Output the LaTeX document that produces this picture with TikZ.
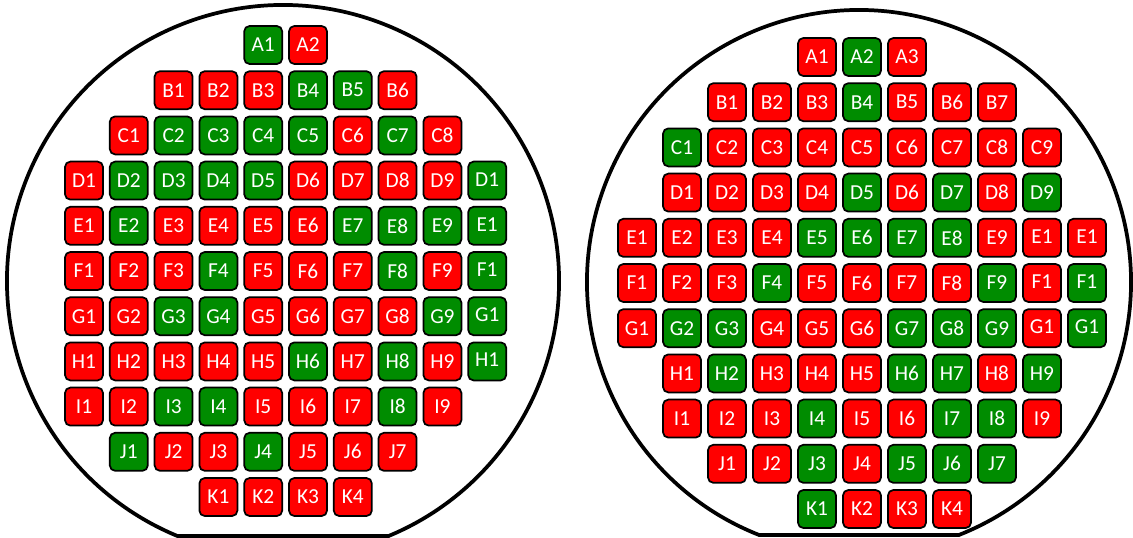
\documentclass[tikz,border=0pt]{standalone}
\usepackage{fontspec}
\setmainfont{Carlito}
\definecolor{diered}{RGB}{255,0,0}
\definecolor{diegreen}{RGB}{0,140,0}

\begin{document}
\begin{tikzpicture}[x=0.75pt, y=-0.75pt,
        die/.style={rectangle, draw=black, line width=1.3pt,
                    rounded corners=4pt, minimum width=28.5pt,
                    minimum height=28.5pt, inner sep=0pt, text=white,
                    font=\fontsize{16}{16}\selectfont},
        pass/.style={die, fill=diegreen},
        fail/.style={die, fill=diered},
        wafer/.style={draw=black, line width=2.8pt}]
      \useasboundingbox (0,0) rectangle (1133,537);
      % wafers with flat
      \draw[wafer] (283,281) ++(112.5:276) arc[start angle=112.5, end angle=427.5, radius=276] -- cycle;
      \draw[wafer] (859,282) ++(111.6:272) arc[start angle=111.6, end angle=428.4, radius=272] -- cycle;
      % left wafer
      \foreach \row/\first/\dies [count=\r] in {
          A/5/{pass,fail},
          B/3/{fail,fail,fail,pass,pass,fail},
          C/2/{fail,pass,pass,pass,pass,fail,pass,fail},
          D/1/{fail,pass,pass,pass,pass,fail,fail,fail,fail,pass},
          E/1/{fail,pass,fail,fail,fail,fail,pass,pass,pass,pass},
          F/1/{fail,fail,fail,pass,fail,fail,fail,pass,fail,pass},
          G/1/{fail,fail,pass,pass,fail,fail,fail,fail,pass,pass},
          H/1/{fail,fail,fail,fail,fail,pass,fail,pass,fail,pass},
          I/1/{fail,fail,pass,pass,fail,fail,fail,pass,fail},
          J/2/{pass,fail,fail,pass,fail,fail,fail},
          K/4/{fail,fail,fail,fail}} {
        \foreach \s [count=\k] in \dies {
          \pgfmathtruncatemacro\col{\first+\k-1}
          \ifnum\k<10 \def\dienum{\k}\def\dielift{0pt}\else\def\dienum{1}\def\dielift{2.2pt}\fi
          \node[\s] (L-\row\k) at ({84+44.8*(\col-1)}, {45+45.2*(\r-1)})
            {\raisebox{\dielift}{\row\dienum}};
        }
      }
      % right wafer
      \foreach \row/\first/\dies [count=\r] in {
          A/5/{fail,pass,fail},
          B/3/{fail,fail,fail,pass,fail,fail,fail},
          C/2/{pass,fail,fail,fail,fail,fail,fail,fail,fail},
          D/2/{fail,fail,fail,fail,pass,fail,pass,fail,pass},
          E/1/{fail,fail,fail,fail,pass,pass,pass,pass,fail,fail,fail},
          F/1/{fail,fail,fail,pass,fail,fail,fail,fail,pass,fail,pass},
          G/1/{fail,pass,pass,fail,fail,fail,pass,pass,pass,fail,pass},
          H/2/{fail,pass,fail,fail,fail,pass,pass,fail,pass},
          I/2/{fail,fail,fail,pass,fail,fail,pass,pass,fail},
          J/3/{fail,fail,pass,fail,pass,pass,pass},
          K/5/{pass,fail,fail,fail}} {
        \foreach \s [count=\k] in \dies {
          \pgfmathtruncatemacro\col{\first+\k-1}
          \ifnum\k<10 \def\dienum{\k}\def\dielift{0pt}\else\def\dienum{1}\def\dielift{2.2pt}\fi
          \node[\s] (R-\row\k) at ({637+45*(\col-1)}, {57+45.2*(\r-1)})
            {\raisebox{\dielift}{\row\dienum}};
        }
      }
    \end{tikzpicture}
\end{document}
